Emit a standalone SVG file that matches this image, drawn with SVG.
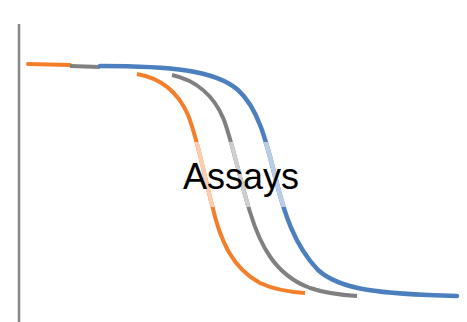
<svg xmlns="http://www.w3.org/2000/svg" width="467" height="322" viewBox="0 0 467 322">
  <defs>
    <style>
      .c { fill: none; stroke-width: 4; stroke-linejoin: round; }
      .or { stroke: #F47E2A; }
      .orl { stroke: #FCCDAE; }
      .gr { stroke: #808080; }
      .grl { stroke: #CFCFCF; }
      .bl { stroke: #4C7FBE; stroke-width: 4.5; }
      .bll { stroke: #B9CDE6; stroke-width: 4.5; }
      .lbl { font-family: "Liberation Sans", Arial, sans-serif; font-size: 36px; fill: #000; }
    </style>
    <clipPath id="band"><rect x="0" y="142" width="467" height="65"/></clipPath>
    <path id="pOr" d="M137,74 C160,78 178,92 188,115 C198,140 204,175 212,205 C220,240 232,268 260,283 C275,290 290,292 305,293"/>
    <path id="pGr" d="M172,75 C195,80 214,95 224,120 C233,145 240,180 250,212 C260,245 275,275 310,288 C325,293 340,295 357,296"/>
    <path id="pBl" d="M100,66 C170,66 215,70 238,90 C258,108 266,140 276,180 C284,212 294,245 318,270 C340,290 380,294 457,296"/>
  </defs>
  <rect width="467" height="322" fill="#FFFFFF"/>
  <g id="axis">
    <line x1="19" y1="24" x2="19" y2="322" stroke="#888888" stroke-width="2.5"/>
  </g>
  <g id="curves">
    <g id="curve-orange">
      <line x1="28" y1="64" x2="70" y2="65" class="c or" stroke-linecap="round"/>
      <use href="#pOr" class="c or"/>
      <use href="#pOr" class="c orl" clip-path="url(#band)"/>
    </g>
    <g id="curve-gray">
      <line x1="70" y1="66" x2="100" y2="67" class="c gr"/>
      <use href="#pGr" class="c gr"/>
      <use href="#pGr" class="c grl" clip-path="url(#band)"/>
    </g>
    <g id="curve-blue">
      <use href="#pBl" class="c bl" stroke-linecap="round"/>
      <use href="#pBl" class="c bll" clip-path="url(#band)"/>
    </g>
  </g>
  <g id="label">
    <text x="241" y="189" text-anchor="middle" class="lbl">Assays</text>
  </g>
</svg>
